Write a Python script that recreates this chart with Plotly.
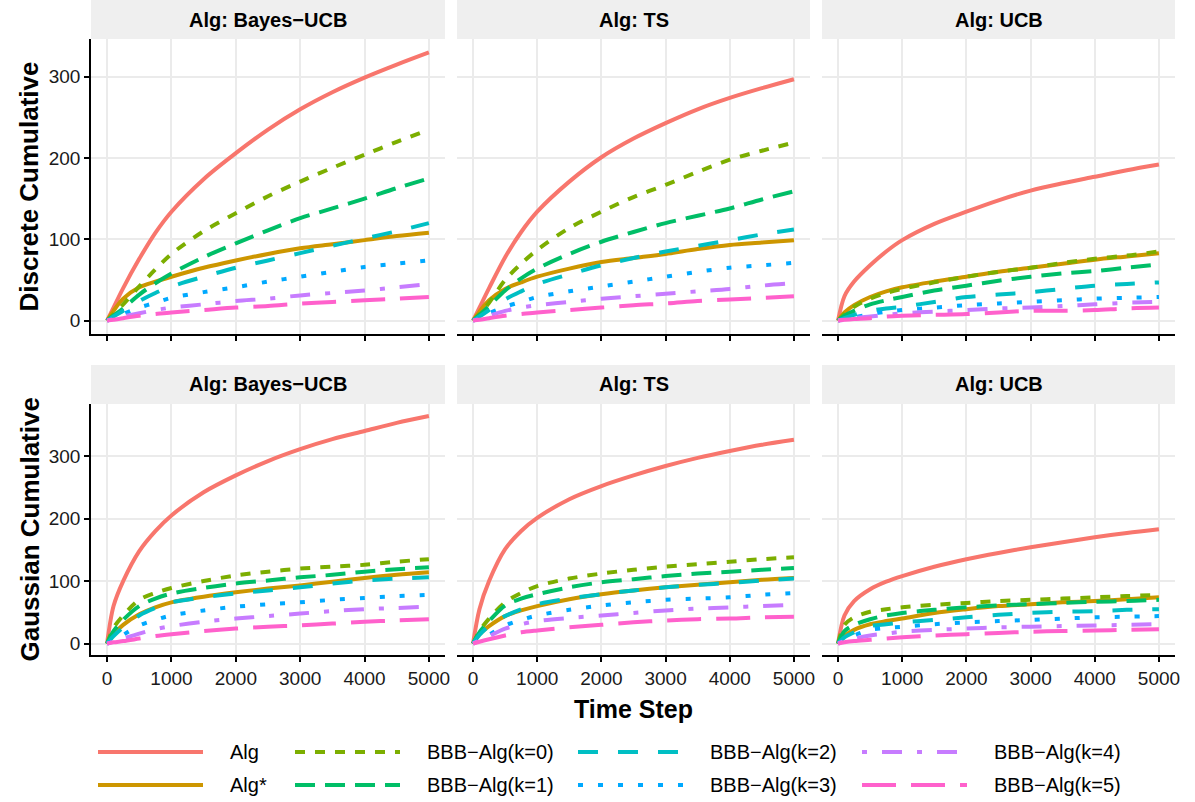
import plotly.graph_objects as go

# ---------------- data ----------------
steps = [0, 100, 250, 500, 750, 1000, 1500, 2000, 2500, 3000, 3500, 4000, 4500, 5000]

series_names = ["Alg", "Alg*", "BBB\u2212Alg(k=0)", "BBB\u2212Alg(k=1)", "BBB\u2212Alg(k=2)",
                "BBB\u2212Alg(k=3)", "BBB\u2212Alg(k=4)", "BBB\u2212Alg(k=5)"]
algs = ["Bayes\u2212UCB", "TS", "UCB"]
row_titles = ["Discrete Cumulative", "Gaussian Cumulative"]
x_ticks = [0, 1000, 2000, 3000, 4000, 5000]
y_ticks = [0, 100, 200, 300]

# Discrete, Bayes-UCB
d_bucb_alg = [0, 16, 40, 76, 108, 134, 174, 206, 235, 260, 281, 299, 315, 330]
d_bucb_star = [0, 12, 27, 41, 48, 54, 65, 74, 82, 89, 94, 99, 104, 108]
d_bucb_k0 = [0, 8, 20, 42, 63, 82, 110, 132, 153, 171, 188, 204, 220, 235]
d_bucb_k1 = [0, 6, 15, 32, 46, 58, 78, 95, 111, 126, 138, 150, 163, 175]
d_bucb_k2 = [0, 5, 12, 24, 34, 42, 54, 65, 74, 83, 92, 101, 110, 120]
d_bucb_k3 = [0, 3, 8, 16, 22, 28, 35, 41, 48, 54, 60, 66, 70, 74]
d_bucb_k4 = [0, 2, 5, 9, 13, 16, 20, 24, 27, 31, 34, 37, 41, 45]
d_bucb_k5 = [0, 1, 3, 6, 8, 10, 13, 16, 18, 21, 23, 25, 27, 29]

# Discrete, TS
d_ts_alg = [0, 16, 40, 78, 109, 134, 171, 201, 224, 243, 260, 274, 286, 297]
d_ts_star = [0, 11, 25, 39, 47, 54, 64, 72, 77, 82, 88, 93, 96, 99]
d_ts_k0 = [0, 8, 22, 50, 70, 87, 114, 134, 152, 167, 183, 198, 209, 219]
d_ts_k1 = [0, 7, 18, 37, 52, 64, 82, 97, 109, 120, 129, 138, 149, 159]
d_ts_k2 = [0, 5, 13, 26, 36, 45, 57, 68, 77, 85, 92, 99, 106, 112]
d_ts_k3 = [0, 3, 9, 17, 23, 29, 36, 42, 48, 54, 60, 65, 68, 71]
d_ts_k4 = [0, 2, 6, 12, 16, 19, 23, 27, 30, 33, 36, 39, 43, 46]
d_ts_k5 = [0, 1, 3, 6, 8, 10, 13, 16, 19, 21, 24, 26, 28, 30]

# Discrete, UCB
d_ucb_alg = [0, 30, 48, 68, 85, 99, 119, 134, 148, 160, 169, 177, 185, 192]
d_ucb_star = [0, 10, 19, 29, 36, 41, 48, 54, 60, 65, 70, 75, 79, 83]
d_ucb_k0 = [0, 8, 17, 27, 34, 39, 47, 54, 60, 65, 71, 76, 80, 85]
d_ucb_k1 = [0, 6, 12, 20, 25, 29, 37, 43, 49, 54, 58, 61, 65, 69]
d_ucb_k2 = [0, 3, 7, 12, 15, 17, 23, 29, 32, 35, 39, 43, 45, 47]
d_ucb_k3 = [0, 2, 4, 8, 11, 13, 16, 19, 21, 23, 25, 27, 28, 29]
d_ucb_k4 = [0, 1, 3, 5, 7, 9, 11, 13, 15, 16, 18, 20, 22, 23]
d_ucb_k5 = [0, 1, 2, 3, 5, 6, 7, 8, 10, 12, 12, 13, 15, 16]

# Gaussian, Bayes-UCB
g_bucb_alg = [0, 60, 100, 148, 180, 205, 242, 269, 292, 311, 327, 340, 353, 364]
g_bucb_star = [0, 15, 30, 47, 58, 66, 75, 82, 88, 93, 99, 105, 110, 114]
g_bucb_k0 = [0, 25, 45, 70, 81, 89, 100, 109, 115, 120, 123, 126, 131, 135]
g_bucb_k1 = [0, 20, 38, 60, 72, 80, 89, 96, 101, 106, 110, 115, 119, 122]
g_bucb_k2 = [0, 12, 26, 45, 57, 66, 74, 80, 85, 90, 96, 101, 104, 106]
g_bucb_k3 = [0, 5, 14, 29, 38, 45, 53, 59, 63, 66, 70, 73, 76, 78]
g_bucb_k4 = [0, 3, 8, 16, 23, 28, 35, 40, 44, 48, 52, 55, 57, 59]
g_bucb_k5 = [0, 2, 4, 8, 12, 15, 20, 24, 27, 29, 32, 35, 37, 39]

# Gaussian, TS
g_ts_alg = [0, 55, 100, 151, 180, 201, 231, 252, 269, 284, 297, 308, 318, 326]
g_ts_star = [0, 15, 28, 44, 53, 60, 71, 79, 85, 90, 94, 98, 102, 105]
g_ts_k0 = [0, 20, 40, 66, 81, 92, 104, 112, 118, 123, 127, 131, 135, 138]
g_ts_k1 = [0, 18, 36, 61, 72, 79, 90, 98, 103, 108, 112, 115, 118, 121]
g_ts_k2 = [0, 14, 28, 44, 55, 63, 72, 79, 85, 90, 94, 97, 101, 104]
g_ts_k3 = [0, 6, 14, 29, 38, 45, 54, 61, 66, 70, 72, 74, 78, 81]
g_ts_k4 = [0, 5, 12, 24, 31, 36, 41, 45, 49, 53, 56, 58, 60, 62]
g_ts_k5 = [0, 3, 7, 13, 18, 21, 26, 30, 34, 37, 39, 40, 42, 43]

# Gaussian, UCB
g_ucb_alg = [0, 45, 68, 87, 99, 108, 123, 135, 145, 154, 162, 170, 177, 183]
g_ucb_star = [0, 12, 22, 31, 36, 40, 49, 55, 60, 63, 66, 68, 71, 74]
g_ucb_k0 = [0, 30, 42, 51, 55, 58, 62, 65, 68, 70, 72, 74, 76, 78]
g_ucb_k1 = [0, 20, 30, 39, 45, 49, 54, 58, 61, 63, 65, 67, 68, 70]
g_ucb_k2 = [0, 10, 18, 28, 31, 34, 38, 42, 46, 49, 51, 52, 54, 55]
g_ucb_k3 = [0, 6, 13, 22, 25, 27, 31, 34, 36, 38, 40, 42, 43, 44]
g_ucb_k4 = [0, 4, 8, 13, 16, 19, 22, 24, 26, 27, 28, 29, 30, 31]
g_ucb_k5 = [0, 2, 4, 6, 8, 10, 13, 15, 17, 19, 20, 21, 22, 23]

panels = [
    [d_bucb_alg, d_bucb_star, d_bucb_k0, d_bucb_k1, d_bucb_k2, d_bucb_k3, d_bucb_k4, d_bucb_k5],
    [d_ts_alg, d_ts_star, d_ts_k0, d_ts_k1, d_ts_k2, d_ts_k3, d_ts_k4, d_ts_k5],
    [d_ucb_alg, d_ucb_star, d_ucb_k0, d_ucb_k1, d_ucb_k2, d_ucb_k3, d_ucb_k4, d_ucb_k5],
    [g_bucb_alg, g_bucb_star, g_bucb_k0, g_bucb_k1, g_bucb_k2, g_bucb_k3, g_bucb_k4, g_bucb_k5],
    [g_ts_alg, g_ts_star, g_ts_k0, g_ts_k1, g_ts_k2, g_ts_k3, g_ts_k4, g_ts_k5],
    [g_ucb_alg, g_ucb_star, g_ucb_k0, g_ucb_k1, g_ucb_k2, g_ucb_k3, g_ucb_k4, g_ucb_k5],
]

# ---------------- styles ----------------
colors = ["#F8766D", "#CD9600", "#7CAE00", "#00BE67", "#00BFC4", "#00A9FF", "#C77CFF", "#FF61CC"]
dashes = ["solid", "solid", "10px,10px", "20px,10px", "20px,20px", "5px,15px",
          "5px,15px,20px,15px", "34px,15px"]
LW = 4
FONT = "Liberation Sans, Arial, Helvetica, sans-serif"

W, H = 1195, 802
col_px = [(91, 445), (457, 810), (822, 1175)]
row_px = [(39, 334), (404, 655)]
strip_px = [(0, 39), (365, 404)]
y_ranges = [[-16.5, 346.5], [-18.25, 383.25]]
LEG_TOP = 730


def fx(p):
    return p / W


def fy(p):
    return 1 - p / H


fig = go.Figure()
layout = {}
shapes = []
annotations = []

for r in range(2):
    for c in range(3):
        i = r * 3 + c + 1
        sfx = "" if i == 1 else str(i)
        xa, ya = "x" + sfx, "y" + sfx
        data = panels[r * 3 + c]
        for s in range(8):
            fig.add_trace(go.Scatter(
                x=steps, y=data[s], mode="lines", name=series_names[s],
                line=dict(color=colors[s], width=LW, dash=dashes[s], shape="spline", smoothing=0.9),
                xaxis=xa, yaxis=ya, showlegend=False, hoverinfo="skip"))
        layout["xaxis" + sfx] = dict(
            domain=[fx(col_px[c][0]), fx(col_px[c][1])], anchor=ya,
            range=[-250, 5250], tickvals=x_ticks, showticklabels=(r == 1),
            tickfont=dict(size=19, color="#1a1a1a", family=FONT),
            showgrid=True, gridcolor="#EBEBEB", gridwidth=1.5, zeroline=False,
            showline=True, linecolor="black", linewidth=1.5,
            ticks="outside", ticklen=5, tickwidth=1.5, tickcolor="black", automargin=False)
        layout["yaxis" + sfx] = dict(
            domain=[fy(row_px[r][1]), fy(row_px[r][0])], anchor=xa,
            range=y_ranges[r], tickvals=y_ticks, showticklabels=(c == 0),
            tickfont=dict(size=19, color="#1a1a1a", family=FONT),
            showgrid=True, gridcolor="#EBEBEB", gridwidth=1.5, zeroline=False,
            showline=(c == 0), linecolor="black", linewidth=1.5,
            ticks="outside" if c == 0 else "", ticklen=5, tickwidth=1.5, tickcolor="black",
            automargin=False)
        # strip
        shapes.append(dict(type="rect", xref="paper", yref="paper",
                           x0=fx(col_px[c][0]), x1=fx(col_px[c][1]),
                           y0=fy(strip_px[r][1]), y1=fy(strip_px[r][0]),
                           fillcolor="#EFEFEF", line=dict(width=0), layer="below"))
        annotations.append(dict(text="<b>Alg: " + algs[c] + "</b>", xref="paper", yref="paper",
                                x=fx((col_px[c][0] + col_px[c][1]) / 2),
                                y=fy((strip_px[r][0] + strip_px[r][1]) / 2),
                                xanchor="center", yanchor="middle", showarrow=False,
                                font=dict(size=20, color="black", family=FONT)))
    # row title
    annotations.append(dict(text="<b>" + row_titles[r] + "</b>", xref="paper", yref="paper",
                            x=fx(29), y=fy((row_px[r][0] + row_px[r][1]) / 2),
                            xanchor="center", yanchor="middle", textangle=-90, showarrow=False,
                            font=dict(size=26, color="black", family=FONT)))

annotations.append(dict(text="<b>Time Step</b>", xref="paper", yref="paper",
                        x=fx(633), y=fy(709), xanchor="center", yanchor="middle",
                        showarrow=False, font=dict(size=25, color="black", family=FONT)))

# ---------------- legend (drawn on a pixel-scaled helper axis at the bottom) ----------------
layout["xaxis7"] = dict(domain=[0, 1], range=[0, W], visible=False, fixedrange=True, anchor="y7")
layout["yaxis7"] = dict(domain=[0, fy(LEG_TOP)], range=[H, LEG_TOP], visible=False,
                        fixedrange=True, anchor="x7")
leg_text_x = [228, 425, 708, 992]
leg_row_y = [752, 785]
key_len = 105
for s in range(8):
    col = s // 2
    row = s % 2
    kx0 = leg_text_x[col] - 130
    fig.add_trace(go.Scatter(
        x=[kx0, kx0 + key_len], y=[leg_row_y[row], leg_row_y[row]], mode="lines",
        line=dict(color=colors[s], width=LW, dash=dashes[s]),
        xaxis="x7", yaxis="y7", showlegend=False, hoverinfo="skip", cliponaxis=False))
    annotations.append(dict(text=series_names[s], xref="paper", yref="paper",
                            x=fx(leg_text_x[col]), y=fy(leg_row_y[row]),
                            xanchor="left", yanchor="middle",
                            showarrow=False, font=dict(size=20, color="black", family=FONT)))

fig.update_layout(
    width=W, height=H, margin=dict(l=0, r=0, t=0, b=0),
    paper_bgcolor="white", plot_bgcolor="rgba(0,0,0,0)",
    font=dict(family=FONT, color="black"),
    shapes=shapes, annotations=annotations, showlegend=False,
    **layout)

fig.write_html("out.html", config={"displayModeBar": False},
               post_script="document.body.style.margin='0';document.body.style.overflow='hidden';")
